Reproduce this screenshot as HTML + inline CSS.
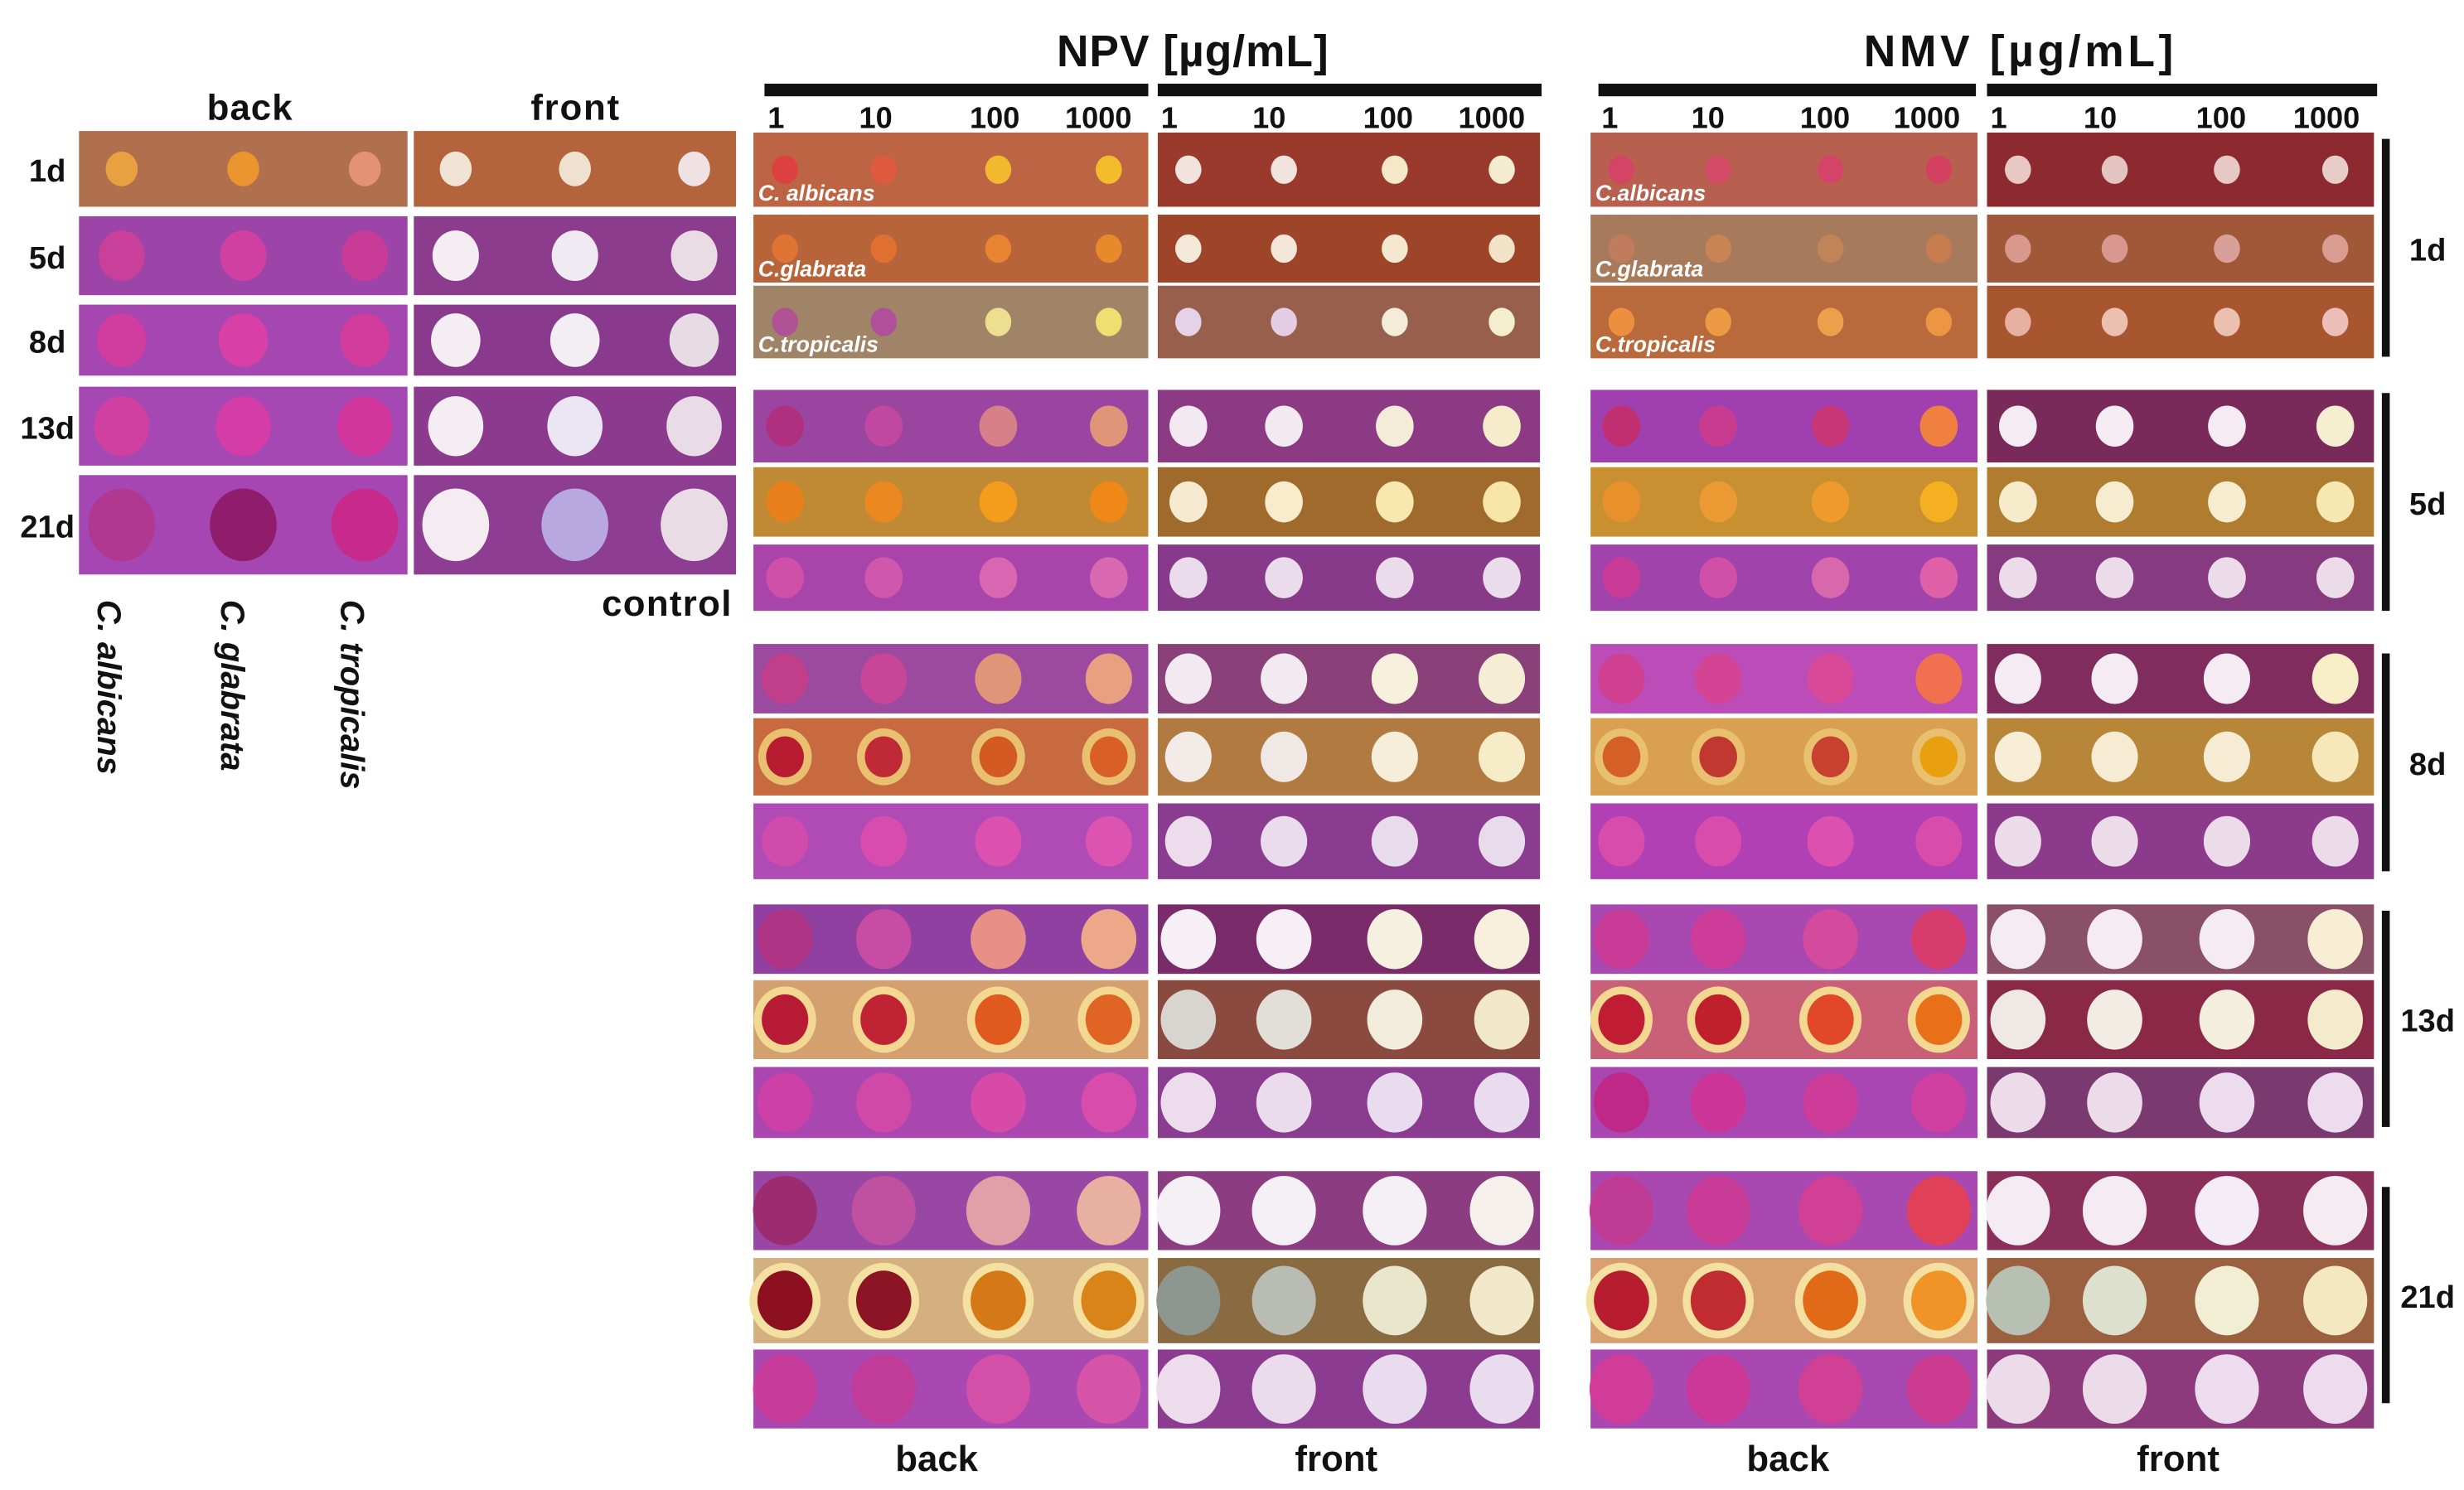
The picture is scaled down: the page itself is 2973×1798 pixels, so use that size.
<!DOCTYPE html>
<html><head><meta charset="utf-8">
<style>
html,body{margin:0;padding:0;background:#fff;}
svg{display:block;}
text{font-family:"Liberation Sans",sans-serif;font-weight:bold;fill:#111;}
</style></head>
<body>
<svg id="fig" width="2973" height="1798" viewBox="0 0 1560 944" preserveAspectRatio="none" xmlns="http://www.w3.org/2000/svg">
<g>
  <text x="158" y="76" font-size="23" text-anchor="middle" textLength="54">back</text>
  <text x="364" y="76" font-size="23" text-anchor="middle" textLength="56">front</text>
  <text x="422" y="390" font-size="23" text-anchor="middle" textLength="82">control</text>
  <text transform="translate(62,380) rotate(90)" font-size="21" font-style="italic">C. albicans</text>
  <text transform="translate(140,380) rotate(90)" font-size="21" font-style="italic">C. glabrata</text>
  <text transform="translate(216,380) rotate(90)" font-size="21" font-style="italic">C. tropicalis</text>
</g>
<g>
  <text x="755" y="42" font-size="28" text-anchor="middle" textLength="172">NPV [µg/mL]</text>
  <text x="1278" y="42" font-size="28" text-anchor="middle" textLength="196">NMV  [µg/mL]</text>
  <rect x="484" y="53" width="243" height="8" fill="#111"/>
  <rect x="733" y="53" width="243" height="8" fill="#111"/>
  <rect x="1012" y="53" width="239" height="8" fill="#111"/>
  <rect x="1258" y="53" width="247" height="8" fill="#111"/>
  <text x="593" y="932" font-size="23" text-anchor="middle">back</text>
  <text x="846" y="932" font-size="23" text-anchor="middle">front</text>
  <text x="1132" y="932" font-size="23" text-anchor="middle">back</text>
  <text x="1379" y="932" font-size="23" text-anchor="middle">front</text>
</g>
<g id="plates"></g>
</svg>
<script>
const days = ["1d","5d","8d","13d","21d"];
const concentrations = ["1","10","100","1000"];
const speciesNames = ["C. albicans","C.glabrata","C.tropicalis"];
const nmvSpeciesNames = ["C.albicans","C.glabrata","C.tropicalis"];
const spotRadius = [9, 13, 16, 19, 22];
const controlSpotRadius = [11, 16, 17, 19, 23];
const haloColor = ["", "", "#e8c070", "#f2d890", "#f4e0a0"];
const controlBackBg = ["#b0704e","#9c44a8","#a646b0","#a648b4","#a646b2"];
const controlBackSpots = [["#e8a040","#eb9530","#e39276"],["#c8409a","#d040a0","#c83c98"],["#d03ca0","#d840a8","#d23c9c"],["#d040a0","#d43ca8","#d2369c"],["#b03890","#901c6c","#c82a8c"]];
const controlFrontBg = ["#b4643c","#8c3c8c","#8a3a8c","#8c3a8e","#8e3e92"];
const controlFrontSpots = [["#f2e4d4","#f0e0d0","#f0e2e2"],["#f4eef2","#f0eaf2","#eadce4"],["#f4eef2","#f2eef4","#e8dce4"],["#f4eef4","#ebe6f4","#eadce6"],["#f4ecf0","#b8a8e0","#eadce4"]];
const npvBackBg = [["#bd6444","#b8643a","#a08468"],["#9a46a0","#c08a34","#a844aa"],["#9c4aa0","#c86a40","#b04ab4"],["#9040a0","#d4a070","#aa46b0"],["#9848a4","#d4b080","#a848b0"]];
const npvBackSpots = [
 [["#dc4040","#e05a40","#f2b830","#f2bc2c"],["#e07434","#e07030","#e88430","#e88a2a"],["#b05294","#b0509a","#ece090","#eee070"]],
 [["#b03080","#c048a0","#d88088","#e09478"],["#e8801c","#ec8820","#f49c1c","#f08818"],["#d050a8","#d058ac","#d866b0","#d868b0"]],
 [["#c03e8a","#c84698","#e09478","#e8a080"],["#b81c30","#c02a36","#d45a24","#d86028"],["#d04cac","#d84cb0","#dc50b0","#dc54b0"]],
 [["#b03486","#c84ca4","#e89088","#eca888"],["#b81c34","#c02434","#e05a20","#e06424"],["#cc40a8","#d048a8","#d84aa8","#d84cac"]],
 [["#9c2c70","#c050a0","#e0a0a8","#e8b0a0"],["#8c1020","#8c1424","#d47818","#d88418"],["#c83c9c","#c03c98","#d450a8","#d654a8"]]];
const npvFrontBg = [["#9a3a2c","#9e4428","#98604c"],["#8c3a84","#a06a2c","#883a8a"],["#8a4078","#b07a40","#8a3c90"],["#7a2c6a","#8a4a40","#8a3c90"],["#8c3c80","#8a6a40","#8c3c90"]];
const npvFrontSpots = [
 [["#f2e4dc","#f2e4dc","#f4e8c8","#f4ecd0"],["#f4e8d8","#f4e6d8","#f4e8d0","#f2e2c8"],["#e6d2e6","#e4cce4","#f2ecd8","#f4eed0"]],
 [["#f2eaf0","#f2eaf0","#f4ecd8","#f6eccc"],["#f6ead0","#f8eccc","#f8e8b0","#f8e6a8"],["#eadcea","#eadcea","#eadcea","#eadcea"]],
 [["#f2eaf0","#f2eaf0","#f6f0dc","#f6eed4"],["#f2ebe8","#f0e8e4","#f6eed8","#f6ecc8"],["#ecdcec","#eadcec","#e8dcec","#e8dcec"]],
 [["#f6f0f6","#f6f0f6","#f6f0e0","#f6f0dc"],["#d8d4d0","#e2dfd8","#f2ecdc","#f0e8c8"],["#ecdcec","#eadcec","#e8dcee","#e8dcee"]],
 [["#f4f0f6","#f4f0f6","#f4f0f4","#f6f0ec"],["#8e9690","#b8bcb2","#eae6cc","#f0e8c8"],["#ecdcec","#eadcec","#e8dcee","#e8dcee"]]];
const nmvBackBg = [["#b86050","#a87a5c","#b86a3c"],["#a040b0","#c89030","#a044ac"],["#bc4cb8","#d8a050","#b040b4"],["#a848b0","#c86078","#aa46b2"],["#a848b0","#d8a070","#a848b0"]];
const nmvBackSpots = [
 [["#d44464","#d44c68","#d44468","#d44060"],["#c07c5c","#c88454","#c08458","#c87c50"],["#ec9040","#ec9a44","#eca04c","#ec9644"]],
 [["#c03070","#c83c90","#c83878","#f08040"],["#e8902c","#ec9a34","#ee9a2c","#f4b020"],["#c83c98","#d050a8","#d868ac","#e060a8"]],
 [["#d04090","#d44494","#d84a98","#f07050"],["#d46028","#c03830","#c84030","#e8a010"],["#d84cac","#d84cac","#dc50b0","#d84cac"]],
 [["#c83c98","#cc3c98","#d44a9c","#d83c6c"],["#c01c34","#c0202c","#e04828","#e87018"],["#c02888","#cc3498","#cc3c98","#d040a0"]],
 [["#c03c94","#c83c98","#d04094","#e04058"],["#b81c30","#c02c30","#e06a18","#f09428"],["#d03c98","#cc3898","#d04094","#cc3c90"]]];
const nmvFrontBg = [["#8c2a30","#a05838","#a85630"],["#7a2a5a","#b07c30","#863a80"],["#802c5e","#b88638","#8c3a8c"],["#8a5068","#8a2848","#7a3a70"],["#8a2e5a","#9a6040","#8c3a7c"]];
const nmvFrontSpotsBase = [
 [["#e8c8c4","#e4c4c0","#e8c8c4","#e8ccc8"],["#d8988c","#d89890","#d8a098","#d89c90"],["#e8b0a0","#ecc0b0","#ecc0b0","#ecc0b8"]],
 [["#f4ecf2","#f4ecf2","#f4ecf2","#f6eed0"],["#f6eccc","#f6ecd0","#f6ecd0","#f6e8b0"],["#ecdcea","#ecdcea","#ecdcea","#ecdcea"]],
 [["#f4ecf2","#f4ecf2","#f4ecf2","#f8eec8"],["#f8eed6","#f6ecd4","#f6ecd4","#f6e8b8"],["#ecdcea","#ecdcea","#ecdcea","#ecdcea"]],
 [["#f4ecf2","#f4ecf2","#f4ecf2","#f8eed4"],["#f0e8e4","#f2ece4","#f4eedc","#f4eacc"],["#ecdcea","#ecdcea","#ecdcee","#ecdcee"]],
 [["#f4ecf2","#f4ecf2","#f4ecf6","#f4ecf0"],["#b8c0b4","#dde0cc","#f2eed4","#f4e8c0"],["#ecdcea","#ecdcea","#ecdcee","#ecdcee"]]];

const rowY = [[84,136,181],[247,296,345],[408,455,509],[573,621,676],[742,797,855]];
const rowH = [[47,43,46],[46,44,42],[44,49,48],[44,50,45],[50,54,50]];
const ctrlY = [83,137,193,245,301];
const ctrlH = [48,50,45,50,63];
const spotFrac4 = [0.08,0.33,0.62,0.9];
const spotFrac3 = [0.13,0.5,0.87];
const dayBarY = [[88,226],[249,387],[414,552],[577,714],[752,889]];

const NS="http://www.w3.org/2000/svg";
const root=document.getElementById('plates');
function mk(tag,attrs,parent){const e=document.createElementNS(NS,tag);for(const k in attrs)e.setAttribute(k,attrs[k]);(parent||root).appendChild(e);return e;}

function plate(x,y,w,h,bg,spots,fracs,r,name,label,halo){
  const g=mk('g',{});
  
  
  const rc=mk('rect',{x:x,y:y,width:w,height:h,fill:bg},g);
  
  
  spots.forEach((c,i)=>{
    const rr=Math.min(r,h/2-2);
    const cx=x+w*fracs[i], cy=y+h/2;
    if(halo){
      const hr=mk('ellipse',{cx:cx,cy:cy,rx:rr*0.92+5,ry:Math.min(rr+5,h/2),fill:halo},g);
      
      
    }
    const s=mk('ellipse',{cx:cx,cy:cy,rx:rr*0.92,ry:rr,fill:c},g);
    
    
  });
  if(label){
    const t=mk('text',{x:x+3,y:y+h-4,'font-size':14,'font-style':'italic',style:'fill:#fff'},g);
    t.textContent=label;
    
    
  }
}

days.forEach((d,di)=>{
  plate(50,ctrlY[di],208,ctrlH[di],controlBackBg[di],controlBackSpots[di],spotFrac3,controlSpotRadius[di],'control-back-'+d);
  plate(262,ctrlY[di],204,ctrlH[di],controlFrontBg[di],controlFrontSpots[di],spotFrac3,controlSpotRadius[di],'control-front-'+d);
  const t=mk('text',{x:30,y:ctrlY[di]+ctrlH[di]/2+8,'font-size':20,'text-anchor':'middle'});
  t.textContent=d;
  
  
});

const tickGroups=[[484,727],[733,976],[1012,1251],[1258,1505]];
const tickFr=[0.03,0.29,0.6,0.87];
tickGroups.forEach(([a,b])=>{
  concentrations.forEach((c,i)=>{
    const t=mk('text',{x:a+(b-a)*tickFr[i],y:81,'font-size':19,'text-anchor':'middle'});
    t.textContent=c;
    
    
  });
});

days.forEach((d,di)=>{
  for(let s=0;s<3;s++){
    const y=rowY[di][s], h=rowH[di][s], r=spotRadius[di];
    const halo=(s===1 && haloColor[di])?haloColor[di]:null;
    plate(477,y,250,h,npvBackBg[di][s],npvBackSpots[di][s],spotFrac4,r-(halo?3:0),'npv-back-'+d+'-row'+(s+1),di===0?speciesNames[s]:null,halo);
    plate(733,y,242,h,npvFrontBg[di][s],npvFrontSpots[di][s],spotFrac4,r,'npv-front-'+d+'-row'+(s+1));
    plate(1007,y,245,h,nmvBackBg[di][s],nmvBackSpots[di][s],spotFrac4,r-(halo?3:0),'nmv-back-'+d+'-row'+(s+1),di===0?nmvSpeciesNames[s]:null,halo);
    plate(1258,y,245,h,nmvFrontBg[di][s],nmvFrontSpotsBase[di][s],spotFrac4,r,'nmv-front-'+d+'-row'+(s+1));
  }
  const [y1,y2]=dayBarY[di];
  const b=mk('rect',{x:1508,y:y1,width:5,height:y2-y1,fill:'#111'});
  
  
  const t=mk('text',{x:1537,y:(y1+y2)/2+8,'font-size':20,'text-anchor':'middle'});
  t.textContent=d;
  
  
});
</script>
</body></html>
